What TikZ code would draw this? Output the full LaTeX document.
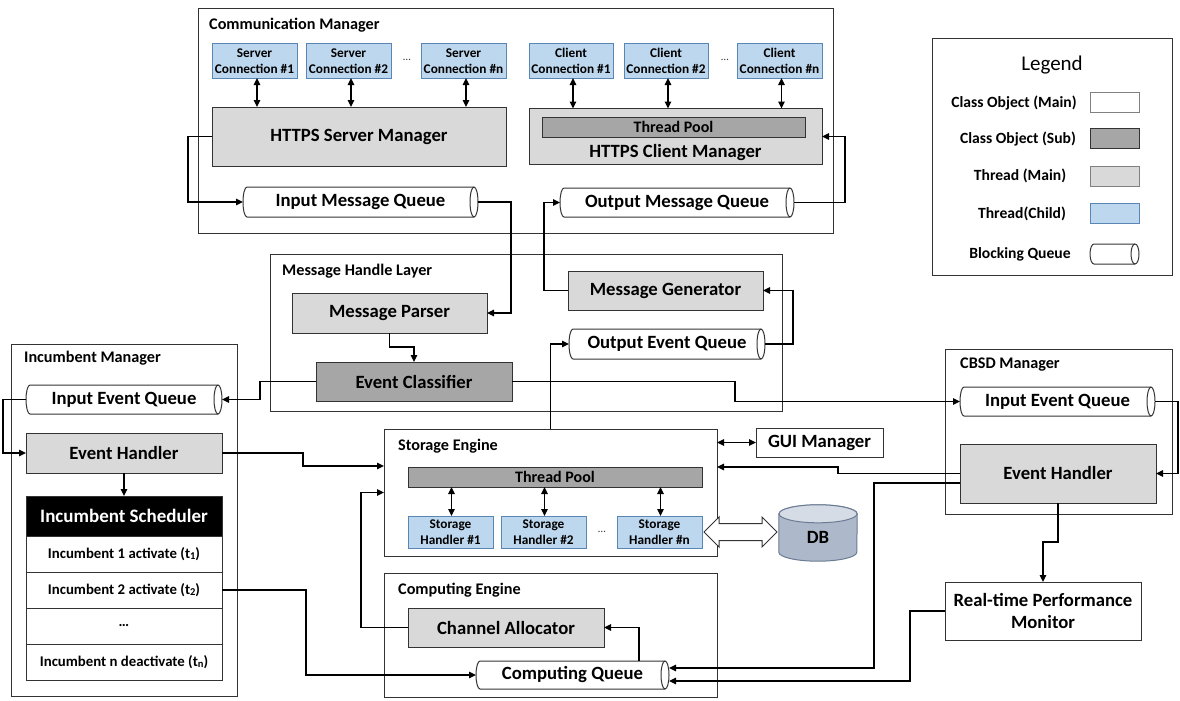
\documentclass[tikz,border=0pt]{standalone}
\usepackage{fontspec}
\setmainfont{Carlito}
\usetikzlibrary{arrows.meta,backgrounds,calc}
\definecolor{linec}{HTML}{333333}
\definecolor{thmain}{HTML}{D9D9D9}
\definecolor{subc}{HTML}{A6A6A6}
\definecolor{childc}{HTML}{BDD7EE}
\definecolor{childb}{HTML}{5A86B5}
\definecolor{dbc}{HTML}{ADB9CA}
\definecolor{dbtop}{HTML}{D6DCE5}
\definecolor{dbb}{HTML}{6B7B93}
\newcommand\myBig{\fontsize{18.7pt}{21pt}\selectfont\bfseries}
\newcommand\myTitle{\fontsize{16.2pt}{18pt}\selectfont\bfseries}
\newcommand\myLeg{\fontsize{15.6pt}{18pt}\selectfont\bfseries}
\newcommand\mySmall{\fontsize{13.3pt}{16.5pt}\selectfont\bfseries}
\newcommand\myRow{\fontsize{14.8pt}{17pt}\selectfont\bfseries}
\newcommand\myTP{\fontsize{16pt}{18pt}\selectfont\bfseries}
\newcommand\mySub[1]{\raisebox{-1.2pt}{\fontsize{10.5pt}{11pt}\selectfont #1}}
\begin{document}
\begin{tikzpicture}[x=1pt,y=-1pt,
  box/.style={draw=linec, line width=1pt, rectangle, inner sep=0pt, outer sep=0pt},
  container/.style={box},
  mainth/.style={box, fill=thmain, font=\myBig},
  subobj/.style={box, fill=subc},
  plain/.style={box, fill=white, font=\myBig},
  child/.style={draw=childb, line width=1pt, fill=childc, inner sep=0pt, outer sep=0pt, font=\mySmall, align=center},
  ttl/.style={anchor=west, font=\myTitle, inner sep=0pt},
  dots/.style={font=\fontsize{11pt}{11pt}\selectfont, text=linec, inner sep=0pt},
  row/.style={box, fill=white, font=\myRow, minimum width=196pt, minimum height=36pt},
  lgtext/.style={font=\myLeg, inner sep=0pt},
  swatch/.style={box, minimum width=49pt, minimum height=20pt},
  queue/.style={rectangle, inner sep=0pt, outer sep=0pt, minimum height=#1, font=\myBig,
    append after command={\pgfextra{%
      \draw[line width=1pt, draw=linec] ([xshift=4pt]\tikzlastnode.north west) -- ([xshift=-4pt]\tikzlastnode.north east)
        arc[start angle=90, end angle=-90, x radius=4pt, y radius=#1/2]
        -- ([xshift=4pt]\tikzlastnode.south west)
        arc[start angle=270, end angle=90, x radius=4pt, y radius=#1/2] -- cycle;
      \draw[line width=1pt, draw=linec] ([xshift=-4pt]\tikzlastnode.north east)
        arc[start angle=90, end angle=270, x radius=4pt, y radius=#1/2];}}},
  arr/.style={line width=1.3pt, draw=black, -{Triangle[length=7pt,width=6.5pt]}},
  darr/.style={line width=1.3pt, draw=black, {Triangle[length=7pt,width=6.5pt]}-{Triangle[length=7pt,width=6.5pt]}},
  hollow/.style={draw=linec, line width=1pt, fill=white, line join=miter}
]
\useasboundingbox (0,0) rectangle (1180,701);

%% Communication Manager
\node[container, minimum width=635pt, minimum height=224pt] (comm) at (515.5,121) {};
\node[ttl] (commt) at (209,25) {Communication Manager};
\node[child, minimum width=85pt, minimum height=34pt] (sc1) at (254.5,61) {Server\\Connection \#1};
\node[child, minimum width=85pt, minimum height=34pt] (sc2) at (348.5,61) {Server\\Connection \#2};
\node[dots] (scd) at (407,60) {…};
\node[child, minimum width=85pt, minimum height=34pt] (scn) at (463.5,61) {Server\\Connection \#n};
\node[mainth, minimum width=294pt, minimum height=59pt] (hsm) at (359,136.5) {HTTPS Server Manager};
\node[child, minimum width=84pt, minimum height=34pt] (cc1) at (571,61) {Client\\Connection \#1};
\node[child, minimum width=84pt, minimum height=34pt] (cc2) at (666,61) {Client\\Connection \#2};
\node[dots] (ccd) at (725,60) {…};
\node[child, minimum width=85pt, minimum height=34pt] (ccn) at (779.5,61) {Client\\Connection \#n};
\node[mainth, minimum width=293pt, minimum height=56pt] (hcm) at (675.5,136.5) {};
\node[subobj, minimum width=263pt, minimum height=20pt, font=\myTP] (tp1) at (673.5,127) {Thread Pool};
\node[font=\myBig, inner sep=0pt] (hcml) at (675.5,153) {HTTPS Client Manager};
\node[queue=30pt, minimum width=235pt] (imq) at (360.5,202) {Input Message Queue};
\node[queue=29pt, minimum width=234pt] (omq) at (677,202.5) {Output Message Queue};

\foreach \n in {sc1,sc2,scn}{\draw[darr] ([xshift=2.5pt]\n.south) -- ([xshift=2.5pt]\n.south |- hsm.north);}
\foreach \n in {cc1,cc2,ccn}{\draw[darr] ([xshift=2pt]\n.south) -- ([xshift=2pt]\n.south |- hcm.north);}

%% Message Handle Layer
\node[container, minimum width=512pt, minimum height=157pt] (mhl) at (526,332.5) {};
\node[ttl] (mhlt) at (282,271) {Message Handle Layer};
\node[mainth, minimum width=195pt, minimum height=40pt] (mp) at (389.5,313) {Message Parser};
\node[subobj, minimum width=196pt, minimum height=39pt, font=\myBig] (ec) at (414,381.5) {Event Classifier};
\node[mainth, minimum width=195pt, minimum height=39pt] (mg) at (665.5,290.5) {Message Generator};
\node[queue=30pt, minimum width=196pt] (oeq) at (667,344) {Output Event Queue};

%% Incumbent Manager
\node[container, minimum width=226pt, minimum height=352pt] (im) at (124,520) {};
\node[ttl] (imt) at (24,358) {Incumbent Manager};
\node[queue=29pt, minimum width=196pt] (iieq) at (124,399.5) {Input Event Queue};
\node[mainth, minimum width=196pt, minimum height=40pt] (ieh) at (124,453) {Event Handler};
\node[box, fill=black, text=white, font=\fontsize{19pt}{21pt}\selectfont\bfseries, minimum width=196pt, minimum height=40pt] (ish) at (124,516) {Incumbent Scheduler};
\node[row] (r1) at (124,554) {Incumbent 1 activate (t\mySub{1})};
\node[row] (r2) at (124,590) {Incumbent 2 activate (t\mySub{2})};
\node[row] (r3) at (124,626) {…};
\node[row] (r4) at (124,662) {Incumbent n deactivate (t\mySub{n})};

%% Storage Engine
\node[container, minimum width=333pt, minimum height=127pt] (se) at (550.5,492.5) {};
\node[ttl] (set) at (398,446) {Storage Engine};
\node[subobj, minimum width=294pt, minimum height=20pt, font=\myTP] (tp2) at (555,477) {Thread Pool};
\node[child, minimum width=85pt, minimum height=32pt, font=\fontsize{13.3pt}{15.5pt}\selectfont\bfseries] (sh1) at (450.5,532) {Storage\\Handler \#1};
\node[child, minimum width=85pt, minimum height=32pt, font=\fontsize{13.3pt}{15.5pt}\selectfont\bfseries] (sh2) at (543.5,532) {Storage\\Handler \#2};
\node[dots] (shd) at (602,532) {…};
\node[child, minimum width=85pt, minimum height=32pt, font=\fontsize{13.3pt}{15.5pt}\selectfont\bfseries] (shn) at (659.5,532) {Storage\\Handler \#n};
\foreach \n in {sh1,sh2,shn}{\draw[darr] ([xshift=1pt]\n.north) -- ([xshift=1pt]\n.north |- tp2.south);}

%% DB
\node[rectangle, inner sep=0pt, minimum width=78pt, minimum height=47pt, font=\myBig] (db) at (818,537.5) {DB};
\begin{pgfonlayer}{background}
\draw[draw=dbb, line width=1pt, fill=dbc] (db.north west) -- ([yshift=9pt]db.south west)
  arc[start angle=180, end angle=360, x radius=39pt, y radius=9pt] -- (db.north east)
  arc[start angle=0, end angle=180, x radius=39pt, y radius=9pt] -- cycle;
\draw[draw=dbb, line width=1pt, fill=dbtop] (db.north) ellipse[x radius=39pt, y radius=9pt];
\end{pgfonlayer}
\draw[hollow] ([xshift=2pt]shn.east) -- ++(15,-15) -- ++(0,6.5) -- ++(43,0) -- ++(0,-6.5) -- ++(15,15)
  -- ++(-15,15) -- ++(0,-6.5) -- ++(-43,0) -- ++(0,6.5) -- cycle;

%% GUI Manager
\node[plain, minimum width=127pt, minimum height=29pt] (gui) at (819.5,442.5) {GUI Manager};
\draw[darr] (se.east |- gui.west) -- (gui.west);

%% Computing Engine
\node[container, minimum width=333pt, minimum height=124pt] (ce) at (550.5,635) {};
\node[ttl] (cet) at (398,590) {Computing Engine};
\node[mainth, minimum width=196pt, minimum height=39pt] (ca) at (506,627.5) {Channel Allocator};
\node[queue=28pt, minimum width=193pt] (cq) at (572.5,675) {Computing Queue};

%% CBSD Manager
\node[container, minimum width=227pt, minimum height=165pt] (cbsd) at (1058.5,431.5) {};
\node[ttl] (cbsdt) at (960,365) {CBSD Manager};
\node[queue=29pt, minimum width=195pt] (cieq) at (1057.5,401.5) {Input Event Queue};
\node[mainth, minimum width=196pt, minimum height=59pt] (ceh) at (1058,473.5) {Event Handler};

%% Real-time Performance Monitor
\node[plain, minimum width=196pt, minimum height=58pt, align=center, font=\fontsize{18.7pt}{22pt}\selectfont\bfseries] (rpm) at (1043,611) {Real-time Performance\\Monitor};

%% Legend
\node[container, minimum width=240pt, minimum height=236pt] (lg) at (1052,157) {};
\node[font=\fontsize{21pt}{24pt}\selectfont, inner sep=0pt] (lgt) at (1052,65) {Legend};
\node[lgtext] (lt1) at (1014,103) {Class Object (Main)};
\node[lgtext] (lt2) at (1018,139) {Class Object (Sub)};
\node[lgtext] (lt3) at (1020,176) {Thread (Main)};
\node[lgtext] (lt4) at (1022,214) {Thread(Child)};
\node[lgtext] (lt5) at (1020,254) {Blocking Queue};
\node[swatch, fill=white, draw=gray] (ls1) at (1114.5,102) {};
\node[swatch, fill=subc] (ls2) at (1114.5,138.5) {};
\node[swatch, fill=thmain, draw=gray] (ls3) at (1114.5,176) {};
\node[swatch, fill=childc, draw=childb] (ls4) at (1114.5,213.5) {};
\node[queue=20pt, minimum width=49pt] (ls5) at (1114.5,254) {};

%% Connectors
\draw[arr] (hsm.west) -- ++(-24,0) |- (imq.west);
\draw[arr] (imq.east) -- ++(33,0) |- (mp.east);
\draw[arr] (omq.east) -- ++(51,0) |- (hcm.east);
\draw[arr] (mg.west) -- ++(-24,0) |- (omq.west);
\draw[arr] (mp.south) -- ++(0,14) -| (ec.north);
\draw[arr] (oeq.east) -- ++(28,0) |- (mg.east);
\draw[arr] (se.north) |- (oeq.west);
\draw[arr] (ec.west) -- ++(-56,0) |- (iieq.east);
\draw[arr] (ec.east) -- ++(223,0) |- (cieq.west);
\draw[arr] (iieq.west) -- ++(-23,0) |- (ieh.west);
\draw[arr] (ieh.south) -- (ish.north);
\draw[arr] (r2.east) -- ++(84,0) |- (cq.west);
\draw[arr] (ieh.east) -- ++(81,0) |- (se.west |- 0,466);
\draw[arr] (ca.west) -- ++(-47,0) |- (se.west);
\draw[arr] (cieq.east) -- ++(23,0) |- (ceh.east);
\draw[arr] (ceh.west) -- (838,473.5) -- (838,467) -- (se.east |- 0,467);
\draw[arr] ([yshift=-9.5pt]ceh.west) -- (874,483) -- (874,668) -- (cq.east |- 0,668);
\draw[arr] (ceh.south) -- ++(0,39) -| (rpm.north);
\draw[arr] (rpm.west) -- ++(-35,0) |- (cq.east |- 0,681);
\draw[arr] ([xshift=66.5pt]cq.north) |- (ca.east);
\end{tikzpicture}
\end{document}
